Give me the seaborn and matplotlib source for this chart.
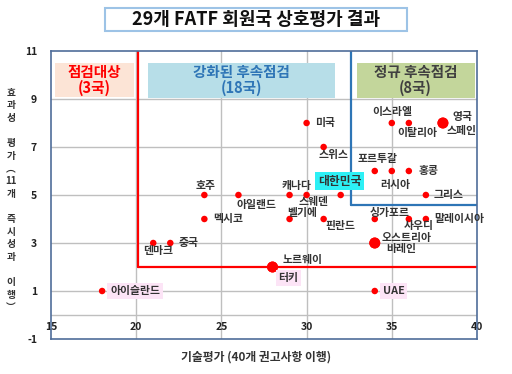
import numpy as np
import pandas as pd
import matplotlib
matplotlib.use("Agg")
import matplotlib.pyplot as plt
import seaborn as sns
from matplotlib.patches import Rectangle

# ---------------- data ----------------
countries = ["미국", "스위스", "호주", "아일랜드", "캐나다", "스웨덴", "대한민국",
             "멕시코", "벨기에", "핀란드", "싱가포르", "사우디", "말레이시아",
             "오스트리아", "바레인", "덴마크", "중국", "노르웨이",
             "이스라엘", "이탈리아", "영국", "스페인", "포르투갈", "러시아",
             "홍콩", "그리스", "아이슬란드", "터키", "UAE"]
tech_scores = [30, 31, 24, 26, 29, 30, 32,
               24, 29, 31, 34, 36, 37,
               34, 34, 21, 22, 28,
               35, 36, 38, 38, 34, 35,
               36, 37, 18, 28, 34]
effect_scores = [8, 7, 5, 5, 5, 5, 5,
                 4, 4, 4, 4, 4, 4,
                 3, 3, 3, 3, 2,
                 8, 8, 8, 8, 6, 6,
                 6, 5, 1, 2, 1]

group_titles = ["점검대상\n(3국)", "강화된 후속점검\n(18국)", "정규 후속점검\n(8국)"]
x_ticks = [15, 20, 25, 30, 35, 40]
y_ticks = [-1, 1, 3, 5, 7, 9, 11]
title = "29개 FATF 회원국 상호평가 결과"
x_label = "기술평가 (40개 권고사항 이행)"
y_label = "효\n과\n성\n\n평\n가\n︵\n11\n개\n\n즉\n시\n성\n과\n\n이\n행\n︶"

# ---------------- styling ----------------
sns.set_theme(style="white")
plt.rcParams["font.family"] = ["Noto Sans CJK KR", "DejaVu Sans"]
plt.rcParams["font.weight"] = "bold"

PX = 0.72  # points per pixel at dpi 100
# label placement: dx, dy in pixels (dy up), horizontal alignment
label_pos = {
    "미국": (8, 0, "left"), "스위스": (10, -8, "center"), "호주": (1, 9, "center"),
    "아일랜드": (18, -10, "center"), "캐나다": (7, 9, "center"),
    "스웨덴": (7, -7, "center"), "대한민국": (-1, 14, "center"),
    "멕시코": (9, 0, "left"), "벨기에": (13, 6, "center"),
    "핀란드": (17, -7, "center"), "싱가포르": (15, 6, "center"),
    "사우디": (10, -7, "center"), "말레이시아": (8, 0, "left"),
    "오스트리아": (7, 5, "left"), "바레인": (11, -6, "left"),
    "덴마크": (5, -8, "center"), "중국": (8, 0, "left"),
    "노르웨이": (10, 7, "left"), "이스라엘": (0, 11, "center"),
    "이탈리아": (8, -10, "center"), "영국": (10, 6, "left"),
    "스페인": (4, -8, "left"), "포르투갈": (3, 12, "center"),
    "러시아": (3, -14, "center"), "홍콩": (10, 0, "left"),
    "그리스": (8, 0, "left"), "아이슬란드": (8, 0, "left"),
    "터키": (16, -11, "center"), "UAE": (8, 0, "left"),
}
highlight = {"대한민국": "#2DF0F5", "아이슬란드": "#FCE4F6",
             "터키": "#FCE4F6", "UAE": "#FCE4F6"}

df = pd.DataFrame({"country": countries, "tech": tech_scores, "eff": effect_scores})
df["n"] = df.groupby(["tech", "eff"])["country"].transform("count")

fig = plt.figure(figsize=(5.12, 3.74), dpi=100)
ax = fig.add_axes([51 / 512, 1 - 339 / 374, 426 / 512, 288 / 374])

grid_c = "#BFBFBF"
for gx in [20, 25, 30, 35]:
    ax.axvline(gx, color=grid_c, lw=1, zorder=0)
for gy in [0, 1, 3, 5, 7, 9]:
    ax.axhline(gy, color=grid_c, lw=1, zorder=0)

# region boxes
ax.add_patch(Rectangle((15.23, 9.08), 4.64, 1.42, fc="#FCE4D6", ec="none", zorder=1))
ax.add_patch(Rectangle((20.7, 9.05), 10.97, 1.45, fc="#B7DEE8", ec="none", zorder=1))
ax.add_patch(Rectangle((32.95, 9.05), 6.93, 1.45, fc="#C3D69B", ec="none", zorder=1))
ax.text(17.55, 9.79, group_titles[0], ha="center", va="center", color="#FF0000",
        fontsize=10.5, fontweight="bold", linespacing=1.05, zorder=2)
ax.text(26.2, 9.79, group_titles[1], ha="center", va="center", color="#2E75B6",
        fontsize=10.5, fontweight="bold", linespacing=1.05, zorder=2)
ax.text(36.4, 9.79, group_titles[2], ha="center", va="center", color="#404040",
        fontsize=10.5, fontweight="bold", linespacing=1.05, zorder=2)

# red / blue region lines
ax.plot([20.1, 20.1], [2, 11], color="#FF0000", lw=1.6, zorder=2)
ax.plot([20.1, 40], [2, 2], color="#FF0000", lw=1.6, zorder=2)
ax.plot([32.6, 32.6], [4.6, 11], color="#2E75B6", lw=1.6, zorder=2)
ax.plot([32.6, 40], [4.6, 4.6], color="#2E75B6", lw=1.6, zorder=2)

sns.scatterplot(data=df, x="tech", y="eff", size="n", sizes={1: 22, 2: 62},
                color="#FF0000", edgecolor="none", legend=False, ax=ax, zorder=5)

for _, r in df.iterrows():
    dx, dy, ha = label_pos[r["country"]]
    kw = {}
    if r["country"] in highlight:
        kw["bbox"] = dict(boxstyle="square,pad=0.25", fc=highlight[r["country"]], ec="none")
    fs = 8.5 if r["country"] == "대한민국" else 7.8
    ax.annotate(r["country"], (r["tech"], r["eff"]), xytext=(dx * PX, dy * PX),
                textcoords="offset points", ha=ha, va="center", fontsize=fs,
                fontweight="bold", color="#333333", zorder=6, **kw)

ax.set_xlim(15, 40)
ax.set_ylim(-1, 11)
ax.set_xticks(x_ticks)
ax.set_yticks(y_ticks)
ax.set_xticklabels([str(v) for v in x_ticks], fontsize=7.5, fontweight="bold", color="#222222")
ax.set_yticklabels([str(v) for v in y_ticks], fontsize=7.5, fontweight="bold", color="#222222")
ax.tick_params(axis="x", direction="in", pad=-12, length=0)
ax.tick_params(axis="y", direction="out", length=4, color=grid_c, pad=6)
ax.set_xlabel("")
ax.set_ylabel("")
for s in ax.spines.values():
    s.set_color("#4F6D9A")
    s.set_linewidth(1.2)
    s.set_visible(True)

fig.text(256 / 512, 1 - 357 / 374, x_label, ha="center", va="center",
         fontsize=8.5, fontweight="bold", color="#333333")
fig.text(11 / 512, 1 - 200 / 374, y_label, ha="center", va="center",
         fontsize=7, fontweight="bold", color="#333333", linespacing=1.33)

fig.patches.append(Rectangle((105 / 512, 1 - 31 / 374), 302 / 512, 23 / 374,
                             transform=fig.transFigure, fc="white", ec="#9DC3E6", lw=1.5))
fig.text(256 / 512, 1 - 19.5 / 374, title, ha="center", va="center",
         fontsize=13, fontweight="bold", color="#111111")

fig.savefig("out.png", dpi=100)
